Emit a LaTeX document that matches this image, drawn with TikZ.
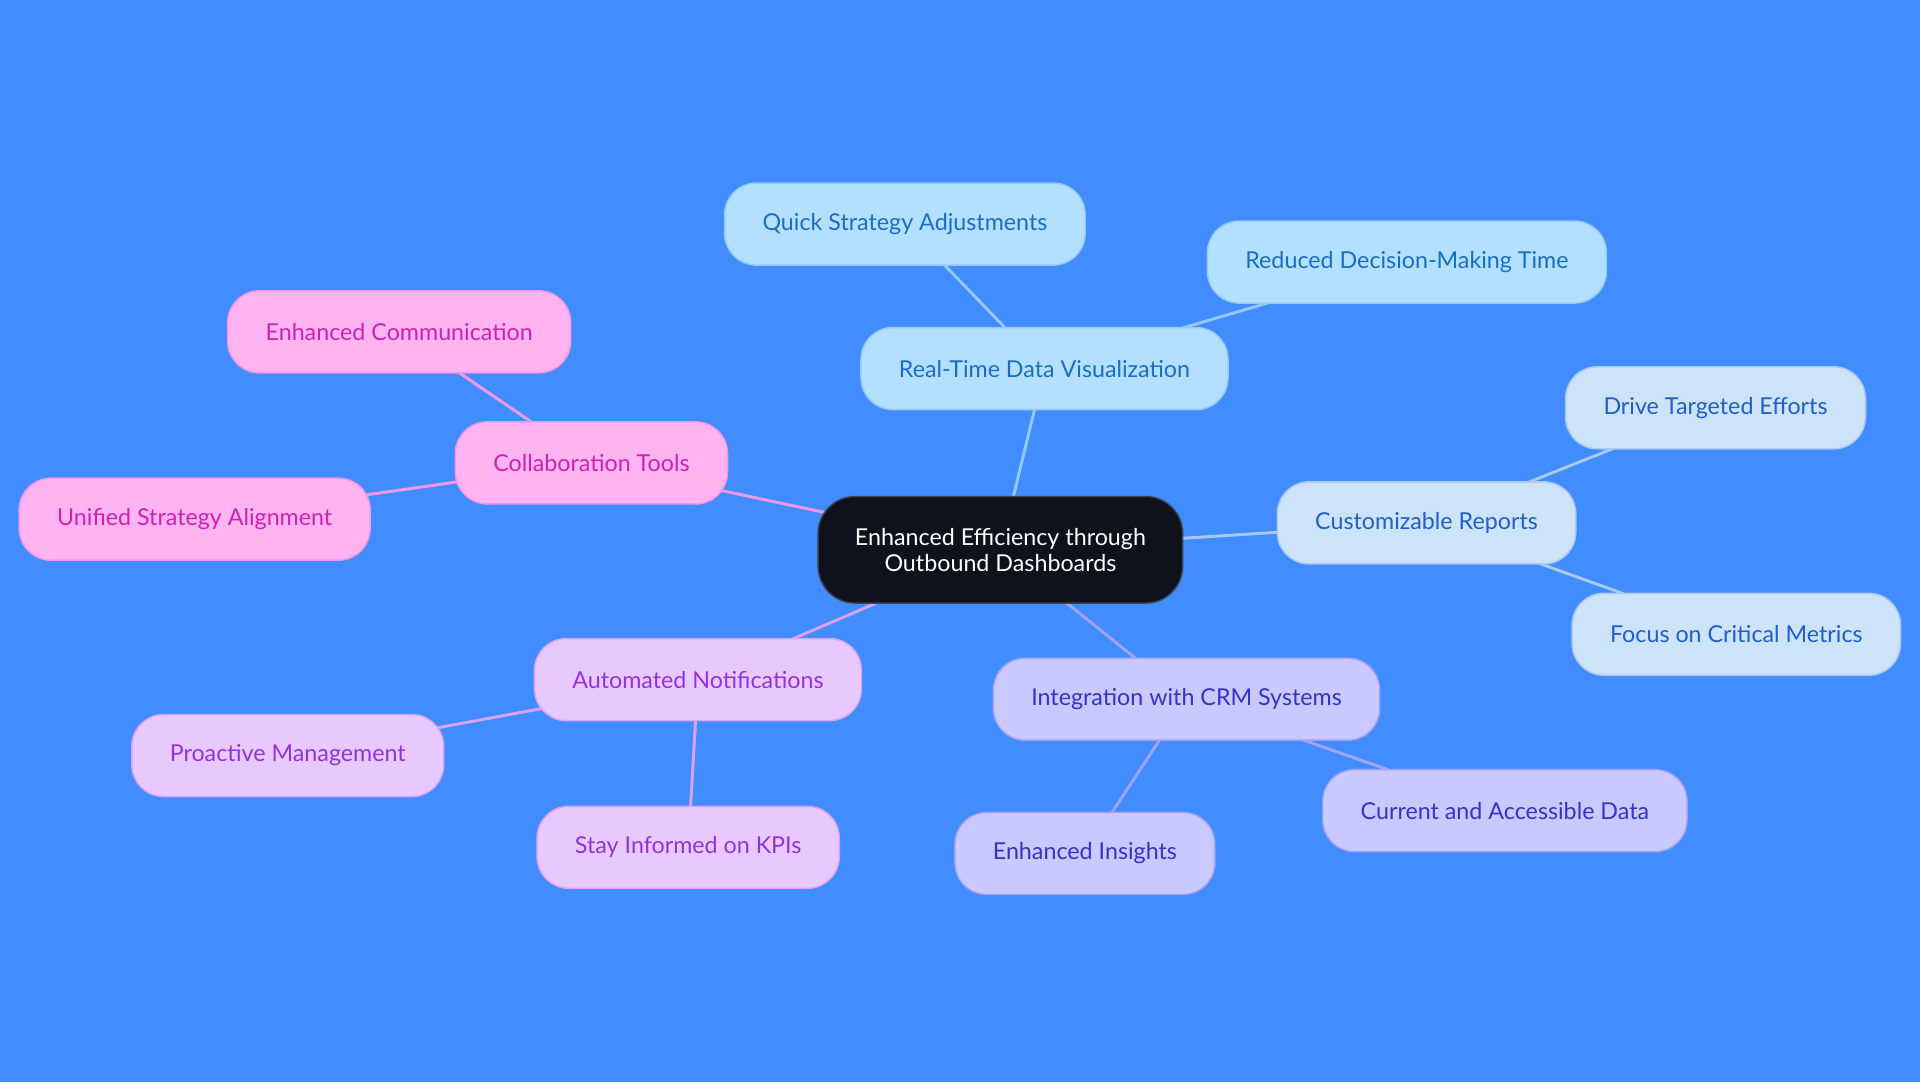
\documentclass[tikz,border=0pt]{standalone}
\usepackage{fontspec}
\setmainfont{Lato}
\usetikzlibrary{backgrounds}
\definecolor{bgblue}{HTML}{418CFF}
\definecolor{hubfill}{HTML}{0D121C}
\definecolor{hubline}{HTML}{3A4250}
\definecolor{pinkfill}{HTML}{FFB3F0}
\definecolor{pinkline}{HTML}{F296E6}
\definecolor{pinktext}{HTML}{CC22B4}
\definecolor{skyfill}{HTML}{B4E0FF}
\definecolor{skyline}{HTML}{94C8F6}
\definecolor{skytext}{HTML}{1A6EC2}
\definecolor{palefill}{HTML}{CDE3FA}
\definecolor{paleline}{HTML}{A8C8F0}
\definecolor{paletext}{HTML}{1F5FC6}
\definecolor{lavfill}{HTML}{C9C9FF}
\definecolor{lavline}{HTML}{A2A2F2}
\definecolor{lavtext}{HTML}{3333C6}
\definecolor{lilfill}{HTML}{E8C9FF}
\definecolor{lilline}{HTML}{D8A2F6}
\definecolor{liltext}{HTML}{9333D6}

\begin{document}
\begin{tikzpicture}[x=1pt,y=-1pt,
    box/.style={rounded corners=26pt,minimum height=67pt,inner xsep=31pt,line width=1.2pt,
      font=\fontsize{19}{21}\selectfont},
    hub/.style={box,rounded corners=30pt,minimum height=87pt,inner xsep=30pt,fill=hubfill,draw=hubline,text=white,align=center},
    pinkbox/.style={box,fill=pinkfill,draw=pinkline,text=pinktext},
    skybox/.style={box,fill=skyfill,draw=skyline,text=skytext},
    palebox/.style={box,fill=palefill,draw=paleline,text=paletext},
    lavbox/.style={box,fill=lavfill,draw=lavline,text=lavtext},
    lilbox/.style={box,fill=lilfill,draw=lilline,text=liltext},
    link/.style={line width=2.4pt}]
    \useasboundingbox (0,0) rectangle (1568,884);

    % centre
    \node[hub] (E) at (817,449) {Enhanced Efficiency through\\Outbound Dashboards};

    % real-time branch
    \node[skybox] (RT) at (853,301) {Real-Time Data Visualization};
    \node[skybox] (QS) at (739,183) {Quick Strategy Adjustments};
    \node[skybox] (RD) at (1149,214) {Reduced Decision-Making Time};

    % reports branch
    \node[palebox] (CR) at (1165,427) {Customizable Reports};
    \node[palebox] (DT) at (1401,333) {Drive Targeted Efforts};
    \node[palebox] (FC) at (1418,518) {Focus on Critical Metrics};

    % crm branch
    \node[lavbox] (IC) at (969,571) {Integration with CRM Systems};
    \node[lavbox] (CA) at (1229,662) {Current and Accessible Data};
    \node[lavbox] (EI) at (886,697) {Enhanced Insights};

    % notifications branch
    \node[lilbox] (AN) at (570,555) {Automated Notifications};
    \node[lilbox] (PM) at (235,617) {Proactive Management};
    \node[lilbox] (SK) at (562,692) {Stay Informed on KPIs};

    % collaboration branch
    \node[pinkbox] (CT) at (483,378) {Collaboration Tools};
    \node[pinkbox] (EC) at (326,271) {Enhanced Communication};
    \node[pinkbox] (US) at (159,424) {Unified Strategy Alignment};

    \begin{scope}[on background layer]
      \fill[bgblue] (0,0) rectangle (1568,884);
      \draw[link,skyline] (E.center)--(RT.center) (RT.center)--(QS.center) (RT.center)--(RD.center);
      \draw[link,paleline] (E.center)--(CR.center) (CR.center)--(DT.center) (CR.center)--(FC.center);
      \draw[link,lavline] (E.center)--(IC.center) (IC.center)--(CA.center) (IC.center)--(EI.center);
      \draw[link,lilline] (E.center)--(AN.center) (AN.center)--(PM.center) (AN.center)--(SK.center);
      \draw[link,pinkline] (E.center)--(CT.center) (CT.center)--(EC.center) (CT.center)--(US.center);
    \end{scope}
  \end{tikzpicture}
\end{document}
